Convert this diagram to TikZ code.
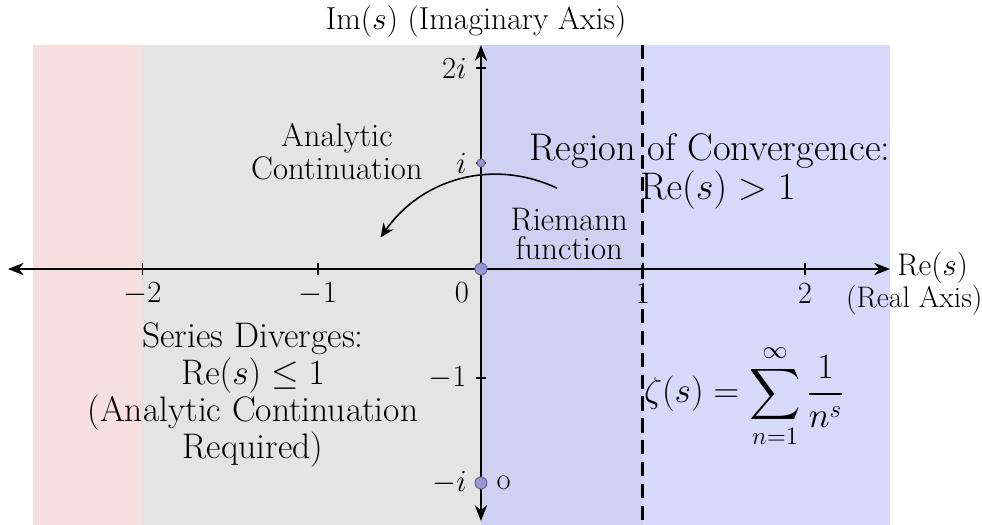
\RequirePackage{fix-cm}
\documentclass[tikz,border=0pt]{standalone}
\usepackage{amsmath,amssymb}
\usepackage{tikz}
\usetikzlibrary{arrows.meta, positioning}

\definecolor{divpink}{RGB}{247,222,223}
\definecolor{contgray}{RGB}{228,228,228}
\definecolor{stripblue}{RGB}{206,209,241}
\definecolor{convblue}{RGB}{215,217,250}
\definecolor{dotblue}{RGB}{150,150,215}

\begin{document}
\begin{tikzpicture}[x=3.24cm, y=2.1cm,
    axis/.style={line width=0.9pt, {Stealth[length=9pt,width=7pt]}-{Stealth[length=9pt,width=7pt]}},
    ticklab/.style={font=\fontsize{17.5}{20}\selectfont, inner sep=1pt},
    note/.style={align=center, inner sep=0pt},
    zdot/.style={circle, fill=dotblue, draw=dotblue!70!black, line width=0.6pt, inner sep=0pt, minimum size=#1}
  ]
  \useasboundingbox (-2.969,-2.438) rectangle (3.093,2.562);
  % regions of the s-plane
  \fill[divpink] (-2.765,-2.438) rectangle (-2.09,2.133);
  \fill[contgray] (-2.09,-2.438) rectangle (0,2.133);
  \fill[stripblue] (0,-2.438) rectangle (1,2.133);
  \fill[convblue] (1,-2.438) rectangle (2.525,2.133);

  % line Re(s)=1
  \draw[line width=1.7pt, dash pattern=on 8pt off 4.5pt] (1,2.133) -- (1,-2.438);

  % axes
  \coordinate (xl) at (-2.92,0);
  \coordinate (xr) at (2.525,0);
  \coordinate (yt) at (0,2.133);
  \coordinate (yb) at (0,-2.40);
  \draw[axis] (xl) -- (xr);
  \draw[axis] (yb) -- (yt);

  \foreach \x/\lab [count=\k] in {-2.09/-2,-1.006/-1,1/1,2/2}{
    \draw[line width=0.7pt] (\x,0.06) -- (\x,-0.06);
    \node[ticklab] (tx\k) at (\x,-0.235) {$\lab$};
  }
  \foreach \y/\lab [count=\k] in {1.914/2i,1.01/i,-1.038/-1,-2.038/-i}{
    \draw[line width=0.7pt] (-0.03,\y) -- (0.03,\y);
    \node[ticklab, left=7pt] (ty\k) at (0,\y) {$\lab$};
  }
  \node[ticklab] (zero) at (-0.117,-0.225) {$0$};

  \node[zdot=0.24cm] (origin) at (0,0) {};
  \node[zdot=0.16cm] (idot) at (0,1.01) {};
  \node[zdot=0.24cm] (midot) at (0,-2.038) {};
  \node[ticklab, right=4pt of midot] (olab) {o};

  % axis names
  \node[font=\fontsize{18.1}{22}\selectfont] (imlab) at (-0.03,2.352) {$\mathrm{Im}(s)$ (Imaginary Axis)};
  \node[font=\fontsize{17.8}{20}\selectfont, anchor=west, inner sep=0pt] (relab) at (2.568,0.01) {$\mathrm{Re}(s)$};
  \node[font=\fontsize{16.9}{19}\selectfont] (realax) at (2.675,-0.295) {(Real Axis)};

  % texts
  \node[note, font=\fontsize{18.6}{19}\selectfont] (contlab) at (-0.889,1.115) {Analytic\\Continuation};
  \node[note, font=\fontsize{18.6}{16.5}\selectfont] (riemlab) at (0.545,0.333) {Riemann\\function};
  \node[note, font=\fontsize{21.9}{22}\selectfont] (roclab) at (1.414,0.93)
    {Region of Convergence:\\\hspace*{0.32cm}$\mathrm{Re}(s)>1$};
  \node[note, font=\fontsize{20.2}{21}\selectfont] (divlab) at (-1.407,-1.2)
    {Series Diverges:\\$\mathrm{Re}(s)\le 1$\\(Analytic Continuation\\Required)};
  \node[inner sep=0pt, font=\fontsize{20.3}{24}\selectfont] (zeta) at (1.625,-1.21)
    {$\displaystyle \zeta(s)=\sum_{n=1}^{\infty}\frac{1}{n^s}$};

  % continuation arrow
  \coordinate (arcs) at (0.47,0.77);
  \coordinate (arce) at (-0.62,0.30);
  \draw[line width=0.9pt, -{Stealth[length=8pt,width=7pt]}] (arcs) to[out=155,in=55] (arce);
\end{tikzpicture}
\end{document}
